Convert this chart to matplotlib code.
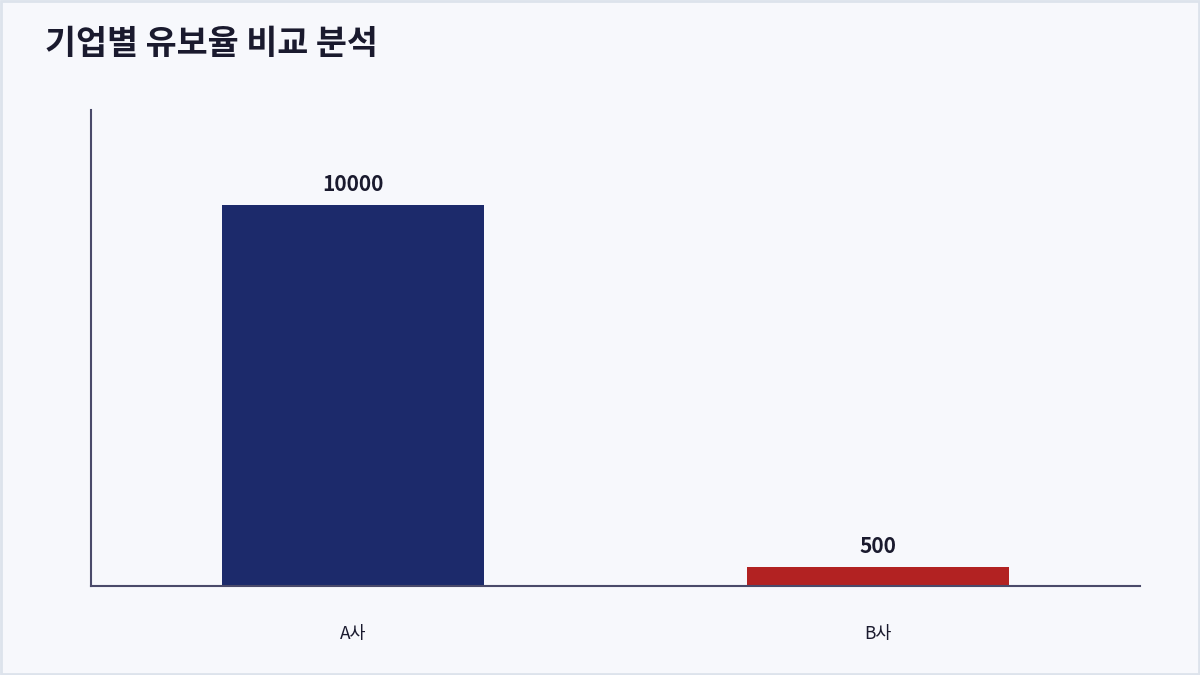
import matplotlib
matplotlib.use("Agg")
import matplotlib.pyplot as plt
from matplotlib.patches import Rectangle

plt.rcParams["font.family"] = ["Noto Sans CJK KR", "DejaVu Sans"]

companies = ["A사", "B사"]
retention = [10000, 500]
colors = ["#1c2a6b", "#b22222"]

fig = plt.figure(figsize=(12, 6.75), dpi=100, facecolor="#f7f8fc")
fig.patches.append(Rectangle((0.001, 0.001), 0.998, 0.997, transform=fig.transFigure,
                             fill=False, edgecolor="#dde3ec", lw=2))
ax = fig.add_axes([0.0758, 0.1319, 0.8742, 0.7052])
ax.set_facecolor("#f7f8fc")

bars = ax.bar(range(len(companies)), retention, width=0.5, color=colors)
for b, v in zip(bars, retention):
    ax.annotate(f"{v}", (b.get_x() + b.get_width() / 2, v), xytext=(0, 7),
                textcoords="offset points", ha="center", va="bottom",
                fontsize=15, fontweight="bold", color="#1a1a2e")

ax.set_xlim(-0.5, 1.5)
ax.set_ylim(0, 12500)
ax.set_xticks(range(len(companies)))
ax.set_xticklabels(companies, fontsize=12.5, color="#1a1a2e")
ax.tick_params(axis="x", length=0, pad=28)
ax.set_yticks([])
for s in ("top", "right"):
    ax.spines[s].set_visible(False)
for s in ("left", "bottom"):
    ax.spines[s].set_color("#4a4a6a")
    ax.spines[s].set_linewidth(1.5)

fig.text(0.0375, 0.936, "기업별 유보율 비교 분석", fontsize=24.3, fontweight="bold",
         color="#1a1a2e", ha="left", va="center")

fig.savefig("out.png", dpi=100, facecolor=fig.get_facecolor())
